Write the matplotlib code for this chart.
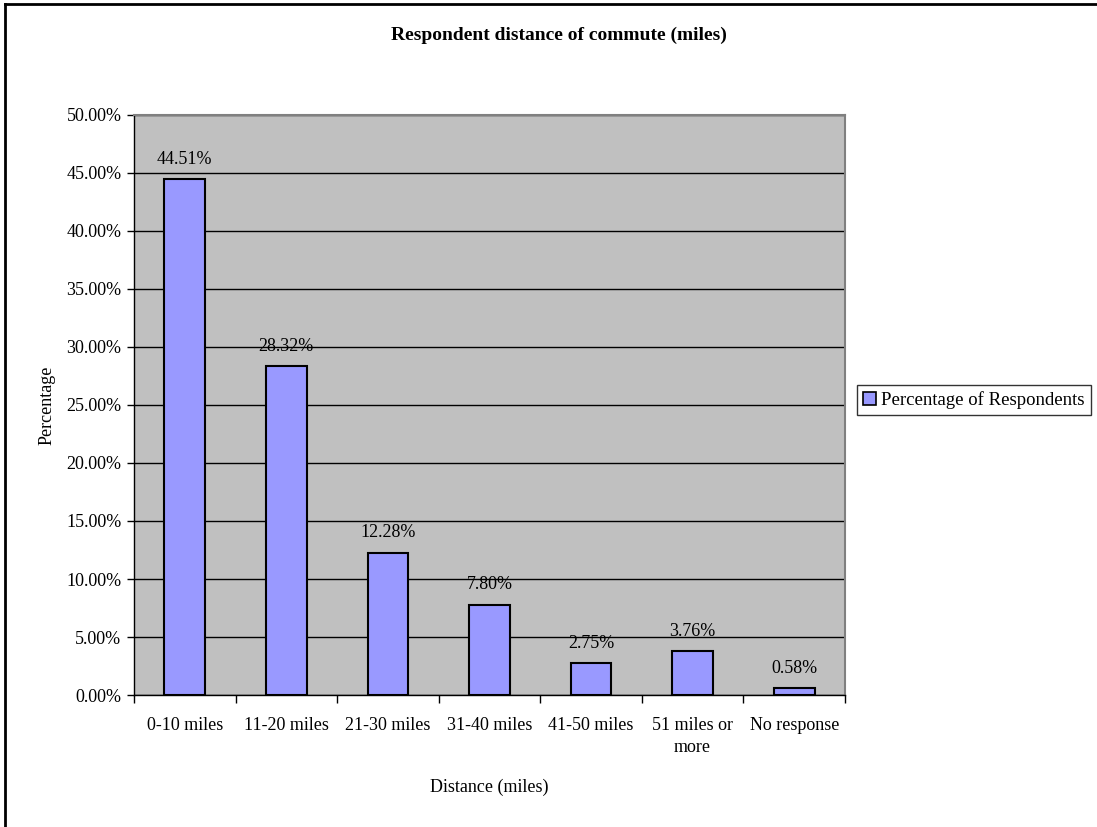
import matplotlib
matplotlib.use("Agg")
import matplotlib.pyplot as plt
from matplotlib.lines import Line2D
import numpy as np

categories = ["0-10 miles", "11-20 miles", "21-30 miles", "31-40 miles",
              "41-50 miles", "51 miles or\nmore", "No response"]
values = [44.51, 28.32, 12.28, 7.80, 2.75, 3.76, 0.58]
series_name = "Percentage of Respondents"
yticks = [0, 5, 10, 15, 20, 25, 30, 35, 40, 45, 50]

plt.rcParams["font.family"] = ["Liberation Serif", "DejaVu Serif"]

W, H = 1097, 827
fig = plt.figure(figsize=(W / 100, H / 100), dpi=100)

# plot area in pixel coordinates
left, right, top, bottom = 134, 845, 115, 695
ax = fig.add_axes([left / W, 1 - bottom / H, (right - left) / W, (bottom - top) / H])
ax.set_facecolor("#C0C0C0")

x = np.arange(len(categories))
bars = ax.bar(x, values, width=0.4, color="#9999FF", edgecolor="black",
              linewidth=1.5, zorder=3, label=series_name)

for xi, v in zip(x, values):
    ax.annotate(f"{v:.2f}%", (xi, v), xytext=(0, 8), textcoords="offset points",
                ha="center", va="bottom", fontsize=13)

ax.set_xlim(-0.5, len(categories) - 0.5)
ax.set_ylim(0, 50)
ax.set_yticks(yticks)
ax.set_yticklabels([f"{t:.2f}%" for t in yticks], fontsize=13)
ax.yaxis.grid(True, color="black", linewidth=1.0, zorder=1)
ax.set_axisbelow(True)

ax.set_xticks(x)
ax.set_xticklabels(categories, fontsize=13, linespacing=1.4)
ax.tick_params(axis="x", length=0, pad=16)
ax.tick_params(axis="y", length=5, width=1, color="black", pad=4)
# category boundary ticks
ax.set_xticks(np.arange(-0.5, len(categories), 1.0), minor=True)
ax.tick_params(axis="x", which="minor", length=6, width=1, color="black")

for s in ["top", "right"]:
    ax.spines[s].set_color("#808080")
    ax.spines[s].set_linewidth(1.5)
for s in ["left", "bottom"]:
    ax.spines[s].set_color("black")
    ax.spines[s].set_linewidth(1.0)

ax.set_ylabel("Percentage", fontsize=13, labelpad=8)
ax.set_xlabel("Distance (miles)", fontsize=13, labelpad=16)

fig.text(559 / W, 1 - 35 / H, "Respondent distance of commute (miles)",
         ha="center", va="center", fontsize=14, fontweight="bold")

leg = fig.legend(handles=[bars], loc="center left",
                 bbox_to_anchor=(857 / W, 1 - 400 / H), fontsize=13.5,
                 frameon=True, fancybox=False, edgecolor="black",
                 handlelength=0.7, handleheight=0.7, handletextpad=0.3,
                 borderpad=0.3, borderaxespad=0)
leg.get_frame().set_linewidth(1.0)
for h in leg.legend_handles:
    h.set_linewidth(1.2)

# chart border (top and left edges visible)
fig.add_artist(Line2D([5 / W, 1.01], [1 - 4 / H, 1 - 4 / H], color="black",
                      linewidth=2, transform=fig.transFigure))
fig.add_artist(Line2D([5 / W, 5 / W], [1 - 4 / H, -0.01], color="black",
                      linewidth=2, transform=fig.transFigure))

fig.savefig("out.png", dpi=100)
